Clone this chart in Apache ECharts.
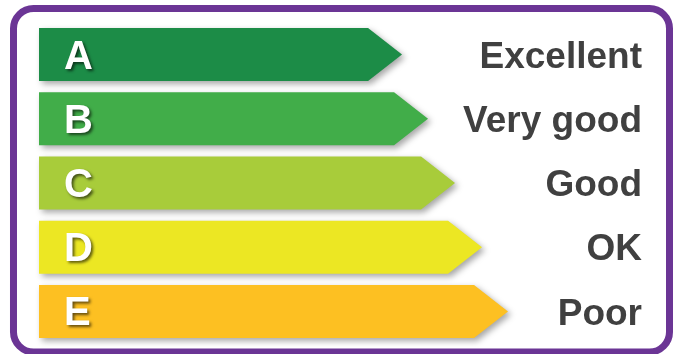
<!DOCTYPE html>
<html>
<head>
<meta charset="utf-8">
<script src="https://cdn.jsdelivr.net/npm/echarts@6/dist/echarts.min.js"></script>
<style>
html,body{margin:0;padding:0;background:#fff;}
#chart{width:676px;height:354px;}
</style>
</head>
<body>
<div id="chart"></div>
<script>
var letters = ['A', 'B', 'C', 'D', 'E'];
var ratings = ['Excellent', 'Very good', 'Good', 'OK', 'Poor'];
var barLengths = [363, 389, 416, 443, 469];
var barColors = ['#1c8c47', '#41ad49', '#a8cc3a', '#ece723', '#fdc022'];

var chart = echarts.init(document.getElementById('chart'), null, {renderer: 'canvas'});
var FONT = '"Liberation Sans", Arial, Helvetica, sans-serif';

function renderItem(params, api) {
  var idx = api.value(1);
  var start = api.coord([0, idx]);
  var tip = api.coord([api.value(0), idx]);
  var band = api.size([0, 1])[1];
  var h = band * 0.826;
  var half = h / 2;
  var depth = half * 1.28;
  var cy = start[1];
  var x0 = start[0];
  var xt = tip[0];
  var xr = xt - depth;
  return {
    type: 'group',
    children: [
      {
        type: 'polygon',
        shape: {points: [[x0, cy - half], [xr, cy - half], [xt, cy], [xr, cy + half], [x0, cy + half]]},
        style: {
          fill: barColors[idx],
          shadowBlur: 6,
          shadowOffsetX: 3,
          shadowOffsetY: 3,
          shadowColor: 'rgba(0,0,0,0.35)'
        }
      },
      {
        type: 'text',
        style: {
          x: x0 + 25,
          y: cy + 3,
          text: letters[idx],
          fill: '#ffffff',
          font: 'bold 40px ' + FONT,
          align: 'left',
          verticalAlign: 'middle',
          textShadowColor: 'rgba(0,0,0,0.6)',
          textShadowBlur: 3,
          textShadowOffsetX: 2,
          textShadowOffsetY: 2
        }
      },
      {
        type: 'text',
        style: {
          x: api.getWidth() - 34,
          y: cy + 3,
          text: ratings[idx],
          fill: '#404040',
          font: 'bold 37px ' + FONT,
          align: 'right',
          verticalAlign: 'middle'
        }
      }
    ]
  };
}

var data = barLengths.map(function (v, i) { return [v, i]; });

chart.setOption({
  backgroundColor: '#ffffff',
  animation: false,
  grid: {left: 39, right: 0, top: 22.5, height: 321},
  xAxis: {type: 'value', min: 0, max: 637, show: false},
  yAxis: {type: 'category', data: letters, inverse: true, show: false},
  graphic: [{
    type: 'rect',
    shape: {x: 13.5, y: 8.5, width: 656, height: 343.5, r: 20},
    style: {fill: 'none', stroke: '#6b3595', lineWidth: 7},
    z: 100
  }],
  series: [{
    type: 'custom',
    renderItem: renderItem,
    data: data,
    clip: false
  }]
});
</script>
</body>
</html>
